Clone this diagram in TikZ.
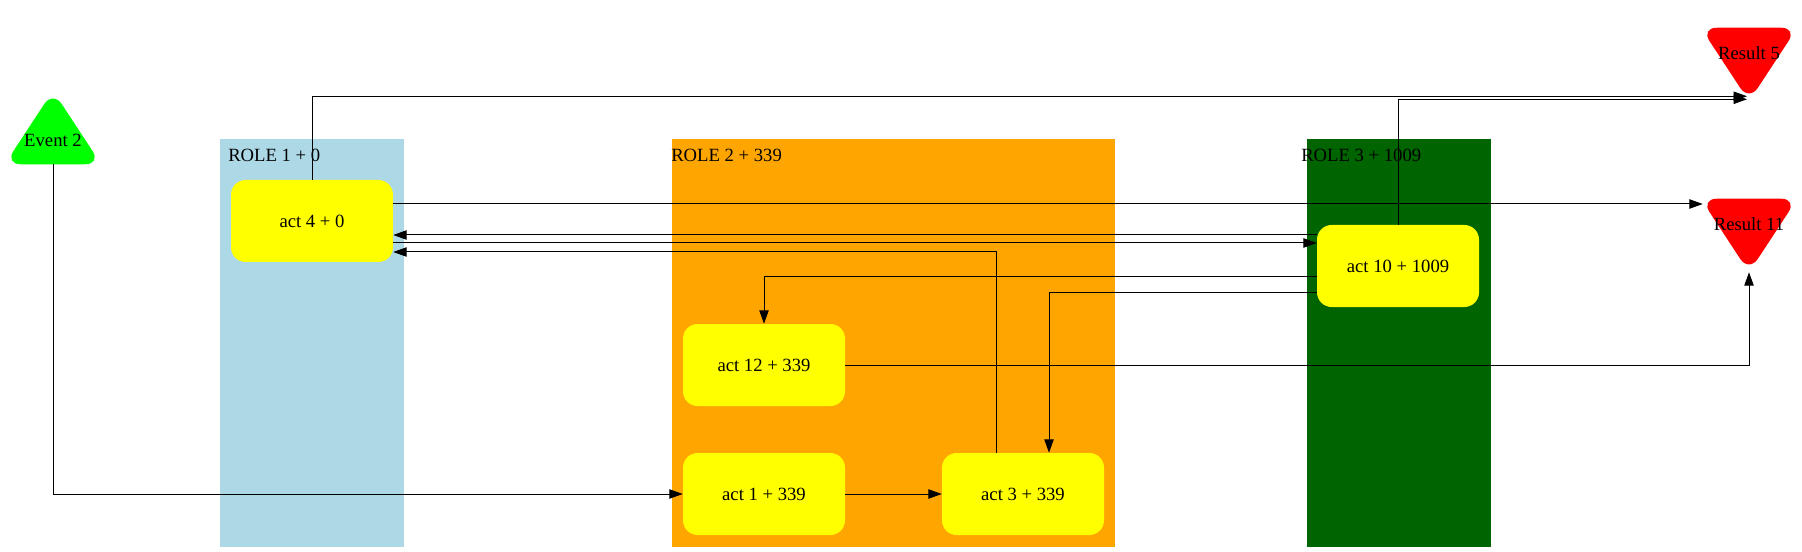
\documentclass[tikz,border=0pt]{standalone}
\usepackage{fontspec}
\setmainfont{Liberation Serif}
\usetikzlibrary{calc}
\usetikzlibrary{arrows.meta}
\usetikzlibrary{backgrounds}

\definecolor{roleblue}{HTML}{ADD8E6}
\definecolor{roleorange}{HTML}{FFA500}
\definecolor{rolegreen}{HTML}{006400}
\definecolor{actyellow}{HTML}{FFFF00}
\definecolor{evgreen}{HTML}{00FF00}
\definecolor{resred}{HTML}{FF0000}

\begin{document}
\begin{tikzpicture}[x=0.75pt, y=-0.75pt,
  txt/.style={font=\fontsize{14}{16}\selectfont},
  act/.style={txt, fill=actyellow, rounded corners=11pt, inner sep=0pt,
    minimum width=121.5pt, minimum height=61.5pt},
  tri/.style={txt, inner sep=0pt, minimum width=72pt, minimum height=54.75pt},
  trifill/.style={rounded corners=12pt},
  rolelabel/.style={txt, inner sep=0pt, anchor=base west},
  flow/.style={black, line width=0.75pt, -{Triangle[length=10pt, width=7pt]}}]
\useasboundingbox (0,0) rectangle (1802,552);

% lanes
\fill[roleblue] (220,139) rectangle (404,547);
\fill[roleorange] (672,139) rectangle (1115,547);
\fill[rolegreen] (1307,139) rectangle (1491,547);
\node[rolelabel] (lab1) at (228,162) {ROLE 1 + 0};
\node[rolelabel] (lab2) at (671,162) {ROLE 2 + 339};
\node[rolelabel] (lab3) at (1301,162) {ROLE 3 + 1009};

% activities
\node[act] (act4) at (312,221) {act 4 + 0};
\node[act] (act10) at (1398,266) {act 10 + 1009};
\node[act] (act12) at (764,365) {act 12 + 339};
\node[act] (act1) at (764,494) {act 1 + 339};
\node[act] (act3) at (1023,494) {act 3 + 339};

% event and results
\node[tri] (ev2) at (53,127.5) {\raisebox{-9.4pt}[\height][\depth]{Event 2}};
\node[tri] (res5) at (1749,64.5) {\raisebox{8.6pt}[\height][\depth]{Result 5}};
\node[tri] (res11) at (1749,235.5) {\raisebox{8.3pt}[\height][\depth]{Result 11}};
\begin{scope}[on background layer]
\fill[evgreen, trifill] (ev2.north) -- (ev2.south east) -- (ev2.south west) -- cycle;
\fill[resred, trifill] (res5.north west) -- (res5.north east) -- (res5.south) -- cycle;
\fill[resred, trifill] (res11.north west) -- (res11.north east) -- (res11.south) -- cycle;
\end{scope}

% connectors
\draw[flow] (act4.north) |- ($(res5.south)+(-2,-5)$);
\draw[flow] (act10.north) |- ($(res5.south)+(-2,-2)$);
\draw[flow] ($(act4.east)+(0,-17)$) coordinate (s3) -- ($(s3 -| res11.west)+(2,0)$);
\draw[flow] ($(act10.west)+(0,-31)$) coordinate (s4) -- (s4 -| act4.east);
\draw[flow] ($(act4.east)+(0,22)$) coordinate (s5) -- (s5 -| act10.west);
\draw[flow] ($(act3.north)+(-27,0)$) |- ($(act4.east)+(0,31)$);
\draw[flow] ($(act10.west)+(0,11)$) -| (act12.north);
\draw[flow] ($(act10.west)+(0,27)$) -| ($(act3.north)+(26,0)$);
\draw[flow] (act12.east) -| (res11.south);
\draw[flow] (ev2.south) |- (act1.west);
\draw[flow] (act1.east) -- (act3.west);

\end{tikzpicture}
\end{document}
